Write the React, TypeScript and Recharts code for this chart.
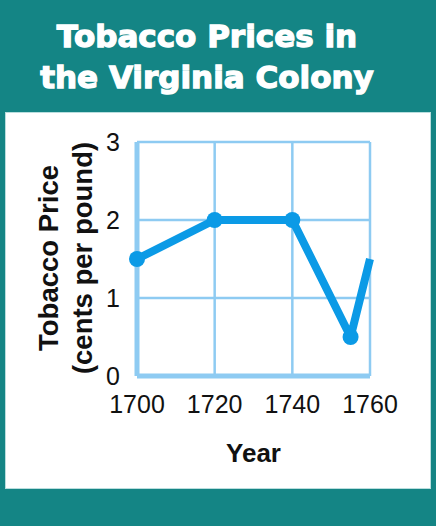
import { LineChart, Line, XAxis, YAxis, CartesianGrid } from 'recharts';

// prices (cents per pound)
const years = [1700, 1720, 1740, 1755, 1760];
const prices = [1.5, 2, 2, 0.5, 1.5];
const yearTicks = [1700, 1720, 1740, 1760];
const priceTicks = [0, 1, 2, 3];

const data = years.map((year, i) => ({ year, price: prices[i] }));

const TEAL = '#148585';
const BLUE = '#0b9ae6';
const GRID = '#8ecbf2';
const SANS = '"Liberation Sans", Arial, Helvetica, sans-serif';
const TITLE_FONT = '"DejaVu Sans", Verdana, sans-serif';

const XTick = (props: any) => {
  const { x, y, payload } = props;
  return (
    <text x={x} y={y} dy="0.71em" textAnchor="middle" fontFamily={SANS} fontSize={25} fill="#111">
      {payload.value}
    </text>
  );
};

const YTick = (props: any) => {
  const { x, y, payload } = props;
  return (
    <text x={x} y={y} dy="0.36em" textAnchor="end" fontFamily={SANS} fontSize={25} fill="#111">
      {payload.value}
    </text>
  );
};

const YLabel = (props: any) => {
  const { viewBox } = props;
  const cy = viewBox.y + viewBox.height / 2 - 1;
  const x1 = 58;
  const x2 = 92;
  return (
    <g fontFamily={SANS} fontWeight="bold" fontSize={27.5} fill="#111">
      <text x={x1} y={cy} textAnchor="middle" transform={`rotate(-90, ${x1}, ${cy})`}>
        Tobacco Price
      </text>
      <text x={x2} y={cy} textAnchor="middle" transform={`rotate(-90, ${x2}, ${cy})`}>
        (cents per pound)
      </text>
    </g>
  );
};

const XLabel = (props: any) => {
  const { viewBox } = props;
  return (
    <text
      x={viewBox.x + viewBox.width / 2}
      y={viewBox.y + 86}
      textAnchor="middle"
      fontFamily={SANS}
      fontWeight="bold"
      fontSize={26}
      fill="#111"
    >
      Year
    </text>
  );
};

// last point has no marker in the original
const Dot = (props: any) => {
  const { cx, cy, index } = props;
  if (index === data.length - 1) return null;
  return <circle key={index} cx={cx} cy={cy} r={8} fill={BLUE} />;
};

const titleStyle: React.CSSProperties = {
  position: 'absolute',
  left: 0,
  width: 414,
  textAlign: 'center',
  color: '#fff',
  fontFamily: TITLE_FONT,
  fontWeight: 'bold',
  fontSize: 31,
  lineHeight: 1,
  whiteSpace: 'nowrap',
  WebkitTextStroke: '1.3px #fff',
};

export default function App() {
  return (
    <div
      style={{
        position: 'fixed',
        left: 0,
        top: 0,
        width: 436,
        height: 526,
        background: TEAL,
        overflow: 'hidden',
      }}
    >
      <div style={{ ...titleStyle, top: 21 }}>Tobacco Prices in</div>
      <div style={{ ...titleStyle, top: 62 }}>the Virginia Colony</div>
      <div
        style={{
          position: 'absolute',
          left: 6,
          top: 113,
          width: 424,
          height: 375,
          background: '#fff',
          boxShadow: '0 0 0 1px #b9dede',
        }}
      />
      <div style={{ position: 'absolute', left: 0, top: 0 }}>
        <LineChart width={436} height={526} data={data} margin={{ top: 142, right: 66, bottom: 90, left: 77 }}>
          <CartesianGrid stroke={GRID} strokeWidth={2.5} />
          <XAxis
            dataKey="year"
            type="number"
            domain={[1700, 1760]}
            ticks={yearTicks}
            height={60}
            axisLine={{ stroke: GRID, strokeWidth: 5 }}
            tickLine={false}
            tickSize={0}
            tickMargin={19}
            tick={<XTick />}
            label={<XLabel />}
          />
          <YAxis
            type="number"
            domain={[0, 3]}
            ticks={priceTicks}
            width={60}
            axisLine={{ stroke: GRID, strokeWidth: 5 }}
            tickLine={false}
            tickSize={0}
            tickMargin={17}
            tick={<YTick />}
            label={<YLabel />}
          />
          <Line
            dataKey="price"
            stroke={BLUE}
            strokeWidth={8}
            strokeLinejoin="round"
            dot={<Dot />}
            activeDot={false}
            isAnimationActive={false}
          />
        </LineChart>
      </div>
    </div>
  );
}
